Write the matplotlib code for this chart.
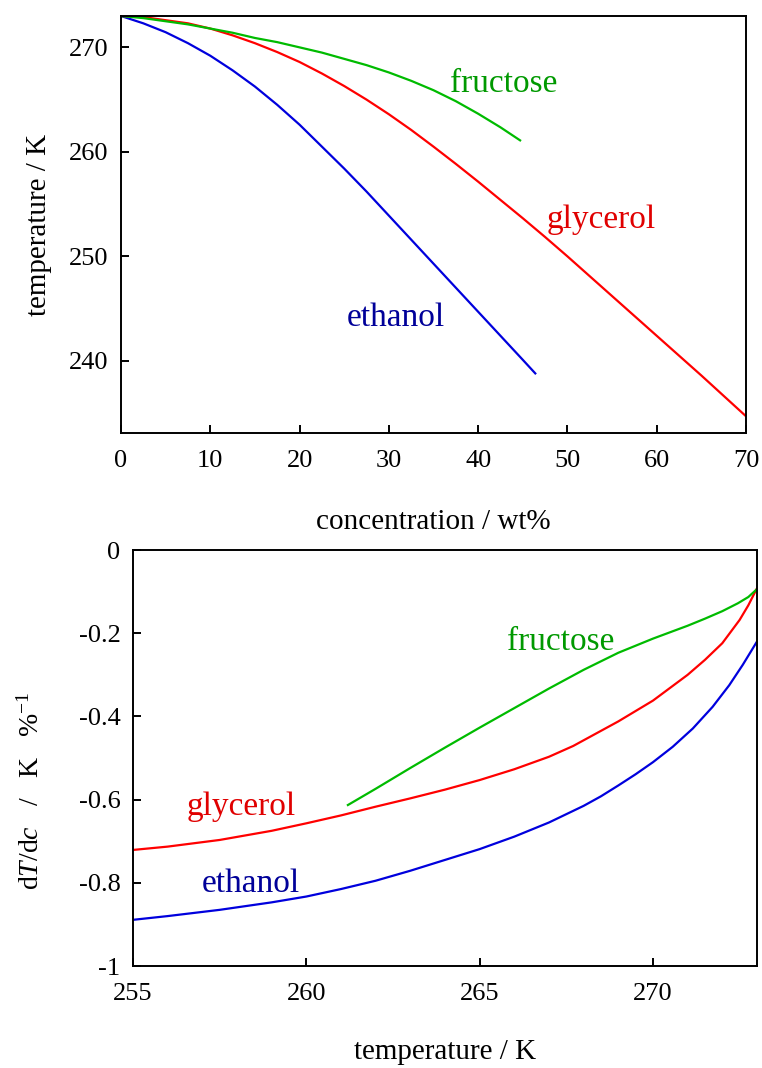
import numpy as np
import matplotlib
matplotlib.use('Agg')
import matplotlib.pyplot as plt

plt.rcParams['font.family'] = ['Liberation Serif', 'DejaVu Serif']
plt.rcParams['mathtext.fontset'] = 'custom'
plt.rcParams['mathtext.rm'] = 'Liberation Serif'
plt.rcParams['mathtext.it'] = 'Liberation Serif:italic'

# freezing curves (top)
conc_ethanol = [0, 2.5, 5, 7.5, 10, 12.5, 15, 17.5, 20, 22.5, 25, 27.5, 30, 32.5,
                35, 37.5, 40, 42.5, 45, 46.4]
T_ethanol = [273.0, 272.3, 271.45, 270.4, 269.2, 267.8, 266.25, 264.5, 262.6, 260.5,
             258.4, 256.2, 253.9, 251.6, 249.3, 247.0, 244.7, 242.4, 240.1, 238.8]
conc_glycerol = [0, 2.5, 5, 7.5, 10, 12.5, 15, 17.5, 20, 22.5, 25, 27.5, 30, 32.5,
                 35, 37.5, 40, 42.5, 45, 47.5, 50, 52.5, 55, 57.5, 60, 62.5, 65, 67.5, 70]
T_glycerol = [273.0, 272.9, 272.6, 272.3, 271.8, 271.15, 270.4, 269.55, 268.6, 267.5,
              266.3, 265.0, 263.6, 262.1, 260.5, 258.85, 257.15, 255.4, 253.65, 251.85,
              250.0, 248.1, 246.2, 244.3, 242.4, 240.5, 238.6, 236.65, 234.7]
conc_fructose = [0, 2.5, 5, 7.5, 10, 12.5, 15, 17.5, 20, 22.5, 25, 27.5, 30, 32.5,
                 35, 37.5, 40, 42.5, 44.7]
T_fructose = [273.0, 272.8, 272.5, 272.2, 271.8, 271.4, 270.9, 270.5, 270.0, 269.5,
              268.9, 268.3, 267.6, 266.8, 265.9, 264.85, 263.65, 262.35, 261.1]

# slopes dT/dc (bottom)
Tb_ethanol = [255, 256, 257.5, 259, 260, 261, 262, 263, 264, 265, 266, 267, 268,
              268.5, 269, 269.5, 270, 270.57, 271.15, 271.72, 272.2, 272.59, 273]
s_ethanol = [-0.889, -0.880, -0.865, -0.847, -0.833, -0.815, -0.795, -0.771, -0.745,
             -0.719, -0.689, -0.655, -0.615, -0.592, -0.566, -0.539, -0.510, -0.473,
             -0.429, -0.377, -0.325, -0.276, -0.220]
Tb_glycerol = [255, 256, 257.5, 259, 260, 261, 262, 263, 264, 265, 266, 267, 267.7,
               269, 270, 271, 271.5, 272, 272.5, 272.75, 273]
s_glycerol = [-0.721, -0.713, -0.697, -0.675, -0.657, -0.638, -0.617, -0.597, -0.576,
              -0.553, -0.527, -0.497, -0.471, -0.412, -0.362, -0.300, -0.264, -0.224,
              -0.168, -0.133, -0.092]
Tb_fructose = [261.2, 262, 263, 264, 265, 266, 267, 268, 269, 270, 271, 271.5, 272,
               272.45, 272.75, 273]
s_fructose = [-0.613, -0.574, -0.524, -0.475, -0.427, -0.380, -0.333, -0.288, -0.247,
              -0.213, -0.182, -0.165, -0.147, -0.128, -0.113, -0.094]

c_eth, c_gly, c_fru = '#0000dd', '#ff0000', '#00bb00'
t_eth, t_gly, t_fru = '#000099', '#e00000', '#009900'

fig = plt.figure(figsize=(7.62, 10.68), dpi=100)
ax1 = fig.add_axes([0.1588, 0.5946, 0.8202, 0.3904])
ax2 = fig.add_axes([0.1745, 0.0955, 0.8189, 0.3895])

for ax in (ax1, ax2):
    for sp in ax.spines.values():
        sp.set_linewidth(1.4)
    ax.tick_params(direction='in', length=6, width=1.4, labelsize=19,
                   top=False, right=False)
    ax.tick_params(axis='x', pad=12)
    ax.tick_params(axis='y', pad=9)

# top panel
ax1.plot(conc_ethanol, T_ethanol, color=c_eth, lw=1.6)
ax1.plot(conc_glycerol, T_glycerol, color=c_gly, lw=1.6)
ax1.plot(conc_fructose, T_fructose, color=c_fru, lw=1.6)
ax1.set_xlim(0, 70)
ax1.set_ylim(233.1, 273.0)
ax1.set_xticks(np.arange(0, 71, 10))
ax1.set_yticks([240, 250, 260, 270])
ax1.set_xlabel('concentration / wt%', fontsize=21, labelpad=27)
ax1.set_ylabel('temperature / K', fontsize=21, labelpad=12)
ax1.text(36.8, 265.7, 'fructose', color=t_fru, fontsize=24)
ax1.text(47.7, 252.7, 'glycerol', color=t_gly, fontsize=24)
ax1.text(25.3, 243.3, 'ethanol', color=t_eth, fontsize=24)

# bottom panel
ax2.plot(Tb_ethanol, s_ethanol, color=c_eth, lw=1.6)
ax2.plot(Tb_glycerol, s_glycerol, color=c_gly, lw=1.6)
ax2.plot(Tb_fructose, s_fructose, color=c_fru, lw=1.6)
ax2.set_xlim(255, 273)
ax2.set_ylim(-1, 0)
ax2.set_xticks([255, 260, 265, 270])
ax2.set_yticks([0, -0.2, -0.4, -0.6, -0.8, -1])
ax2.set_yticklabels(['0', '-0.2', '-0.4', '-0.6', '-0.8', '-1'])
ax2.set_xlabel('temperature / K', fontsize=21, labelpad=25)
ax2.set_ylabel(r'd$\mathit{T}$/d$\mathit{c}$   /   K   %$^{-1}$', fontsize=20)
ax2.yaxis.set_label_coords(-0.141, 0.42)
ax2.text(265.8, -0.240, 'fructose', color=t_fru, fontsize=24)
ax2.text(256.56, -0.637, 'glycerol', color=t_gly, fontsize=24)
ax2.text(256.99, -0.821, 'ethanol', color=t_eth, fontsize=24)

fig.savefig('out.png', dpi=100)
